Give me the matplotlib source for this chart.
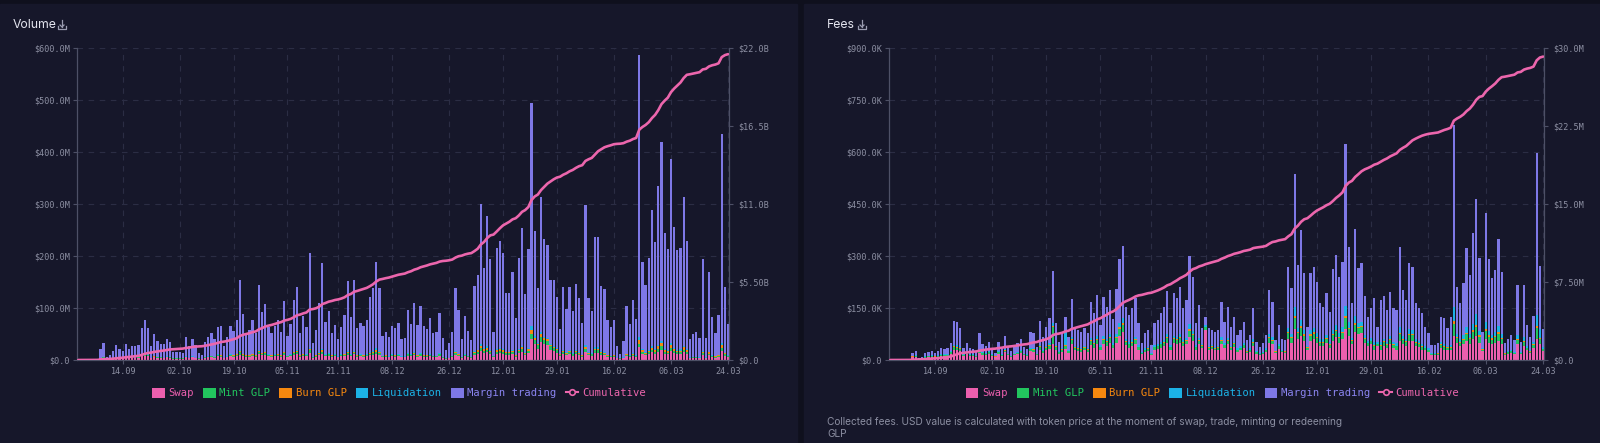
import numpy as np
import pandas as pd
import matplotlib
matplotlib.use("Agg")
import matplotlib.pyplot as plt
from matplotlib.lines import Line2D
from matplotlib.patches import Patch, Rectangle

# ---- data (one value per day, 31.08.2021 .. 24.03.2022) ----
days = pd.date_range("2021-08-31", "2022-03-24", freq="D")
tick_labels = ["14.09", "02.10", "19.10", "05.11", "21.11", "08.12",
               "26.12", "12.01", "29.01", "16.02", "06.03", "24.03"]

# daily volume, $M (total stack height and the small components)
vol_total = [0.3, 0.5, 0.8, 0.6, 1.0, 1.2, 2.0,
    22, 33, 6, 10, 18, 28, 21, 18, 31, 22,
    26, 26, 29, 61, 77, 61, 26, 50, 37, 31,
    30, 40, 35, 16, 16, 15, 14, 44, 27, 40,
    29, 14, 10, 35, 45, 51, 40, 64, 66, 26,
    44, 65, 56, 77,
    153, 88, 51, 58, 76, 51, 144, 93, 107, 64,
    51, 65, 77, 54, 113, 46, 69, 115, 140, 51,
    85, 64, 205, 32, 58, 109, 187, 74, 95, 51,
    67, 40, 63, 87, 151, 83, 154, 61, 71, 65,
    77, 121, 138, 189, 138, 46, 54, 44, 65, 61,
    72, 40, 42, 96,
    70, 110, 67, 104, 65, 59, 80, 51, 53, 90,
    42, 19, 32, 53, 138, 96, 40, 85, 56, 38,
    143, 163, 300, 176, 276, 194, 53, 215, 229, 205,
    128, 128, 170, 80, 196, 253, 127, 213, 495, 249,
    138, 314, 232, 221, 154, 154, 122, 59, 141, 99,
    141, 95, 146, 119, 72, 298, 119, 95, 236, 236,
    142, 136, 77, 63, 76, 26, 12, 37, 104, 70,
    115, 78, 587, 189, 144, 196, 288, 226, 335, 420,
    245, 213, 386, 255, 212, 215, 313, 228, 40, 50,
    53, 42, 194, 43, 170, 82, 51, 87, 435, 141, 69]

vol_swap = [0.2, 0.3, 0.5, 0.4, 0.6, 0.8, 1.0,
    3, 4, 1, 2, 3, 4, 3, 3, 4, 3,
    4, 3, 4, 7, 8, 7, 3, 5, 4, 4,
    3, 5, 4, 2, 2, 2, 2, 5, 3, 5,
    3, 2, 1, 4, 5, 6, 4, 7, 6, 3,
    5, 7, 6, 8,
    10, 8, 6, 6, 8, 6, 12, 9, 10, 7,
    6, 7, 8, 6, 10, 5, 7, 10, 12, 6,
    8, 7, 14, 4, 6, 9, 12, 7, 8, 6,
    7, 5, 7, 8, 10, 7, 11, 6, 7, 6,
    7, 9, 10, 12, 10, 5, 6, 5, 7, 6,
    7, 5, 5, 8,
    7, 9, 6, 8, 6, 6, 7, 5, 5, 8,
    4, 2, 3, 5, 10, 8, 4, 7, 5, 4,
    10, 12, 18, 14, 16, 12, 5, 12, 14, 12,
    10, 10, 11, 6, 13, 16, 9, 14, 40, 30,
    22, 35, 30, 28, 20, 18, 14, 7, 12, 9,
    11, 8, 11, 9, 6, 16, 9, 8, 14, 14,
    10, 9, 6, 5, 6, 3, 2, 3, 7, 5,
    7, 5, 25, 12, 9, 11, 15, 12, 16, 20,
    12, 11, 18, 13, 11, 11, 15, 12, 3, 4,
    4, 3, 10, 3, 9, 5, 4, 6, 18, 8, 5]

vol_mint = [0.1, 0.1, 0.2, 0.1, 0.2, 0.2, 0.3,
    1, 1, 0.5, 1, 1, 1, 1, 1, 1, 1,
    1, 1, 1, 2, 2, 2, 1, 1, 1, 1,
    1, 1, 1, 1, 1, 1, 1, 1, 1, 1,
    1, 1, 0.5, 1, 1, 1, 1, 2, 2, 1,
    1, 2, 2, 2,
    5, 2, 2, 2, 2, 2, 4, 3, 3, 2,
    2, 2, 2, 2, 3, 2, 2, 3, 4, 2,
    2, 2, 5, 1, 2, 3, 4, 2, 3, 2,
    2, 1, 2, 2, 3, 2, 3, 2, 2, 2,
    2, 3, 3, 4, 3, 2, 2, 1, 2, 2,
    2, 1, 1, 3,
    2, 3, 2, 3, 2, 2, 2, 2, 2, 3,
    1, 1, 1, 2, 3, 2, 1, 2, 2, 1,
    3, 4, 5, 4, 4, 3, 2, 4, 4, 4,
    3, 3, 4, 2, 4, 5, 3, 4, 10, 8,
    6, 9, 8, 8, 6, 5, 5, 3, 4, 3,
    4, 3, 4, 3, 2, 5, 3, 3, 5, 5,
    4, 3, 2, 2, 2, 1, 1, 1, 3, 2,
    3, 2, 6, 4, 3, 4, 5, 4, 5, 6,
    4, 3, 6, 4, 4, 4, 5, 4, 1, 1,
    1, 1, 3, 1, 3, 2, 2, 2, 5, 3, 2]

vol_burn = [0, 0, 0, 0, 0, 0.1, 0.1,
    0.5, 0.5, 0.2, 0.3, 0.5, 0.5, 0.4, 0.4, 0.6, 0.4,
    0.5, 0.5, 0.5, 1, 1, 1, 0.5, 0.8, 0.6, 0.5,
    0.5, 0.6, 0.6, 0.3, 0.3, 0.3, 0.3, 0.7, 0.5, 0.6,
    0.5, 0.3, 0.2, 0.6, 0.7, 0.8, 0.6, 1, 1, 0.5,
    0.7, 1, 0.9, 1.2,
    2, 1.2, 0.8, 0.9, 1.1, 0.8, 2, 1.4, 1.5, 1,
    0.8, 1, 1.1, 0.8, 1.6, 0.7, 1, 1.6, 2, 0.8,
    1.2, 1, 2.5, 0.5, 0.9, 1.5, 2.5, 1.1, 1.4, 0.8,
    1, 0.6, 1, 1.2, 2, 1.2, 2, 0.9, 1, 1,
    1.1, 1.7, 2, 2.5, 2, 0.7, 0.8, 0.7, 1, 0.9,
    1, 0.6, 0.6, 1.4,
    1, 1.5, 1, 1.5, 1, 0.9, 1.2, 0.8, 0.8, 1.3,
    0.6, 0.3, 0.5, 0.8, 2, 1.4, 0.6, 1.2, 0.8, 0.6,
    2, 2.5, 4, 2.5, 3.5, 2.5, 0.8, 3, 3, 3,
    2, 2, 2.5, 1.2, 2.5, 3.5, 2, 3, 8, 5,
    3, 6, 4, 4, 2.5, 2.5, 2, 1, 2, 1.5,
    2, 1.5, 2, 1.8, 1.2, 4, 1.8, 1.5, 3, 3,
    2, 2, 1.2, 1, 1.2, 0.5, 0.3, 0.6, 1.5, 1,
    1.8, 1.2, 8, 3, 2, 3, 4, 3, 5, 6,
    3.5, 3, 5, 3.5, 3, 3, 4.5, 3, 0.6, 0.8,
    0.8, 0.6, 3, 0.6, 2.5, 1.2, 0.8, 1.2, 6, 2, 1]

vol_liq = [0, 0, 0, 0, 0, 0, 0,
    0.2, 0.3, 0.1, 0.1, 0.2, 0.3, 0.2, 0.2, 0.3, 0.2,
    0.2, 0.2, 0.3, 0.6, 0.8, 0.6, 0.2, 0.5, 0.4, 0.3,
    0.3, 0.4, 0.3, 0.1, 0.1, 0.1, 0.1, 0.4, 0.3, 0.4,
    0.3, 0.1, 0.1, 0.3, 0.4, 0.5, 0.4, 0.6, 0.7, 0.2,
    0.4, 0.7, 0.5, 0.8,
    1.5, 0.8, 0.5, 0.6, 0.8, 0.5, 1.5, 0.9, 1, 0.6,
    0.5, 0.6, 0.8, 0.5, 1.2, 0.4, 0.7, 1.2, 1.5, 0.5,
    0.8, 0.6, 2, 0.3, 0.6, 1, 2, 0.7, 1, 0.5,
    0.7, 0.4, 0.6, 0.9, 1.5, 0.8, 1.5, 0.6, 0.7, 0.6,
    0.8, 1.2, 1.5, 4, 1.5, 0.5, 0.5, 0.4, 0.6, 0.6,
    0.7, 0.4, 0.4, 1,
    0.7, 1.1, 0.7, 1, 0.6, 0.6, 0.8, 0.5, 0.5, 0.9,
    0.4, 0.2, 0.3, 0.5, 1.4, 1, 0.4, 0.8, 0.6, 0.4,
    1.5, 1.6, 3, 1.8, 2.8, 2, 0.5, 2.2, 2.3, 2,
    1.3, 1.3, 1.7, 0.8, 2, 2.5, 1.3, 2.1, 7, 2.5,
    1.4, 3.5, 2.3, 2.2, 1.5, 1.5, 1.2, 0.6, 1.4, 1,
    1.4, 1, 1.5, 1.2, 0.7, 3, 1.2, 1, 2.4, 2.4,
    1.4, 1.4, 0.8, 0.6, 0.8, 0.3, 0.1, 0.4, 1, 0.7,
    1.2, 0.8, 6, 1.9, 1.4, 2, 2.9, 2.3, 3.4, 4.2,
    2.5, 2.1, 3.9, 2.6, 2.1, 2.2, 3.1, 2.3, 0.4, 0.5,
    0.5, 0.4, 1.9, 0.4, 1.7, 0.8, 0.5, 0.9, 4.4, 1.4, 0.7]

# daily fees, $K
fee_total = [0.2, 0.4, 0.6, 0.5, 0.8, 1, 2,
    21, 27, 5, 10, 19, 24, 27, 21, 26, 34,
    32, 34, 50, 112, 109, 93, 34, 50, 34, 31,
    24, 77, 46, 40, 53, 34, 21, 53, 34, 69,
    38, 26, 38, 48, 62, 38, 31, 82, 79, 38,
    113, 67, 96, 120, 257, 106, 53, 82, 125, 67,
    175, 96, 87, 82, 91, 77, 168, 135, 188, 101,
    183, 154, 202, 117, 204, 290, 330, 154, 130, 150,
    178, 106, 48, 77, 87, 43, 106, 115, 137, 154,
    200, 106, 192, 178, 212, 150, 173, 300, 240, 106,
    160,
    91, 125, 91, 87, 82, 87, 168, 111, 152, 96,
    125, 72, 87, 111, 58, 72, 149, 53, 38, 48,
    72, 202, 168, 58, 101, 62, 58, 269, 208, 536,
    274, 375, 250, 96, 250, 269, 226, 163, 154, 192,
    139, 262, 303, 240, 284, 622, 327, 163, 377, 265,
    280, 185, 125, 149, 178, 96, 173, 185, 144, 197,
    150, 144, 325, 202, 173, 281, 269, 163, 149, 135,
    96, 77, 43, 43, 48, 125, 120, 91, 123, 678,
    212, 165, 221, 322, 245, 365, 463, 293, 82, 425,
    290, 236, 260, 348, 255, 48, 62, 72, 58, 216,
    53, 216, 101, 67, 127, 598, 271, 88]

fee_swap = [0.1, 0.2, 0.3, 0.2, 0.4, 0.5, 1,
    8, 10, 2, 4, 7, 9, 10, 8, 10, 12,
    12, 12, 18, 30, 28, 25, 12, 18, 12, 11,
    9, 20, 15, 14, 18, 12, 8, 18, 12, 22,
    13, 9, 13, 16, 20, 13, 11, 25, 24, 13,
    30, 20, 28, 32, 45, 30, 18, 24, 32, 20,
    45, 28, 26, 24, 28, 24, 42, 36, 45, 30,
    45, 40, 50, 34, 50, 70, 80, 42, 36, 40,
    45, 30, 16, 24, 26, 14, 30, 32, 36, 40,
    50, 30, 48, 45, 50, 40, 45, 65, 55, 30,
    45,
    35, 86, 30, 32, 28, 30, 45, 35, 45, 30,
    38, 24, 28, 35, 20, 24, 40, 18, 14, 16,
    24, 50, 45, 20, 32, 22, 20, 60, 50, 90,
    60, 70, 55, 30, 55, 60, 50, 40, 40, 48,
    35, 55, 65, 50, 60, 90, 70, 45, 80, 75,
    77, 50, 40, 45, 30, 40, 30, 40, 35, 45,
    35, 30, 55, 45, 40, 55, 55, 40, 38, 30,
    28, 24, 15, 14, 15, 35, 30, 30, 28, 70,
    50, 40, 45, 55, 45, 60, 70, 50, 25, 60,
    50, 45, 50, 55, 45, 15, 18, 20, 16, 45,
    16, 40, 28, 20, 35, 60, 45, 25]

fee_mint = [0, 0, 0.1, 0.1, 0.1, 0.1, 0.2,
    2, 2, 0.5, 1, 2, 2, 2, 2, 2, 3,
    3, 3, 4, 8, 8, 7, 3, 4, 3, 3,
    2, 6, 4, 3, 4, 3, 2, 4, 3, 5,
    3, 2, 3, 4, 5, 3, 3, 6, 6, 3,
    8, 5, 7, 9, 50, 8, 4, 6, 9, 5,
    12, 7, 6, 6, 7, 6, 12, 10, 13, 7,
    13, 11, 14, 8, 14, 20, 22, 11, 9, 10,
    12, 7, 3, 5, 6, 3, 7, 8, 9, 10,
    13, 7, 12, 12, 14, 10, 11, 20, 16, 7,
    10,
    6, 8, 6, 6, 5, 6, 11, 7, 10, 6,
    8, 5, 6, 7, 4, 5, 10, 4, 3, 3,
    5, 13, 11, 4, 7, 4, 4, 17, 13, 30,
    17, 22, 15, 6, 15, 16, 14, 10, 10, 12,
    9, 16, 18, 14, 17, 30, 19, 10, 22, 16,
    17, 11, 8, 9, 11, 6, 11, 11, 9, 12,
    9, 9, 19, 12, 11, 17, 16, 10, 9, 8,
    6, 5, 3, 3, 3, 8, 8, 6, 8, 35,
    13, 10, 13, 19, 15, 21, 26, 17, 5, 24,
    17, 14, 15, 20, 15, 3, 4, 5, 4, 13,
    3, 13, 6, 4, 8, 32, 16, 6]

fee_burn = [0, 0, 0, 0, 0, 0, 0,
    0.4, 0.4, 0.1, 0.2, 0.4, 0.4, 0.4, 0.4, 0.4, 0.6,
    0.6, 0.6, 0.8, 1.6, 1.6, 1.6, 0.6, 0.8, 0.6, 0.6,
    0.4, 1.2, 0.8, 0.8, 0.8, 0.6, 0.4, 0.8, 0.6, 1.2,
    0.6, 0.4, 0.6, 0.8, 1, 0.6, 0.6, 1.2, 1.2, 0.6,
    1.6, 1.2, 1.6, 2, 3, 1.6, 0.8, 1.2, 2, 1.2,
    2.4, 1.6, 1.2, 1.2, 1.6, 1.2, 2.4, 2, 2.8, 1.6,
    2.8, 2.4, 3.2, 2, 3.2, 4.4, 4.8, 2.4, 2, 2.4,
    2.8, 1.6, 0.8, 1.2, 1.2, 0.8, 1.6, 1.6, 2, 2.4,
    2.8, 1.6, 2.8, 2.8, 3.2, 2.4, 2.4, 4.4, 3.6, 1.6,
    2.4,
    1.4, 2, 1.4, 1.4, 1.2, 1.4, 2.4, 1.6, 2.4, 1.6,
    2, 1.2, 1.4, 1.6, 0.8, 1.2, 2.4, 0.8, 0.6, 0.8,
    1.2, 3.2, 2.4, 0.8, 1.6, 1, 0.8, 4, 3.2, 7,
    4, 5, 3.6, 1.6, 3.6, 4, 3.2, 2.4, 2.4, 2.8,
    2, 3.6, 4, 3.2, 4, 7, 4.4, 2.4, 5, 3.6,
    4, 2.8, 2, 2.2, 2.4, 1.4, 2.4, 2.4, 2, 2.8,
    2.2, 2, 4.4, 2.8, 2.4, 4, 4, 2.4, 2.2, 2,
    1.4, 1.2, 0.6, 0.6, 0.8, 1.8, 1.8, 1.4, 1.8, 8,
    3.2, 2.4, 3.2, 4.4, 3.6, 4.8, 6, 4, 1.2, 5.6,
    4, 3.2, 3.6, 4.8, 3.6, 0.8, 0.8, 1, 0.8, 3.2,
    0.8, 3.2, 1.4, 1, 1.8, 7, 3.6, 1.2]

fee_liq = [0, 0, 0, 0, 0, 0, 0,
    1, 1, 0.2, 0.5, 1, 1, 1, 1, 1, 1.5,
    1.5, 1.5, 2, 5, 5, 4, 1.5, 2, 1.5, 1.5,
    1, 3, 2, 2, 2, 1.5, 1, 2, 1.5, 3,
    1.5, 1, 1.5, 2, 2.5, 1.5, 1.5, 3, 3, 1.5,
    4, 3, 4, 5, 8, 4, 2, 3, 38, 3,
    6, 4, 3, 3, 4, 3, 6, 5, 7, 4,
    7, 6, 8, 5, 8, 12, 14, 6, 5, 6,
    7, 4, 2, 3, 3, 2, 4, 4, 5, 6,
    8, 4, 7, 7, 8, 6, 6, 15, 10, 4,
    6,
    4, 5, 4, 4, 3, 4, 8, 5, 7, 4,
    5, 3, 4, 5, 2, 3, 7, 2, 2, 2,
    3, 10, 8, 2, 5, 3, 2, 12, 10, 25,
    12, 18, 12, 4, 12, 13, 10, 7, 7, 9,
    6, 12, 14, 11, 13, 28, 15, 7, 20, 12,
    13, 8, 6, 7, 8, 4, 8, 8, 7, 9,
    7, 7, 16, 9, 8, 13, 12, 7, 6, 6,
    4, 4, 2, 2, 2, 6, 6, 4, 6, 40,
    10, 8, 10, 16, 12, 18, 30, 14, 4, 20,
    14, 11, 12, 17, 12, 2, 3, 3, 3, 10,
    2, 10, 5, 3, 6, 30, 25, 4]

vol_left = [0, 100, 200, 300, 400, 500, 600]
vol_left_lbl = ["$0.0", "$100.0M", "$200.0M", "$300.0M", "$400.0M", "$500.0M", "$600.0M"]
vol_right = [0, 5.5, 11, 16.5, 22]
vol_right_lbl = ["$0.0", "$5.50B", "$11.0B", "$16.5B", "$22.0B"]
fee_left = [0, 150, 300, 450, 600, 750, 900]
fee_left_lbl = ["$0.0", "$150.0K", "$300.0K", "$450.0K", "$600.0K", "$750.0K", "$900.0K"]
fee_right = [0, 7.5, 15, 22.5, 30]
fee_right_lbl = ["$0.0", "$7.50M", "$15.0M", "$22.5M", "$30.0M"]

for name, lst in [("vol_total", vol_total), ("vol_swap", vol_swap), ("vol_mint", vol_mint),
                  ("vol_burn", vol_burn), ("vol_liq", vol_liq), ("fee_total", fee_total),
                  ("fee_swap", fee_swap), ("fee_mint", fee_mint), ("fee_burn", fee_burn),
                  ("fee_liq", fee_liq)]:
    assert len(lst) == len(days), (name, len(lst))

# ---- style ----
PAGE = "#0f101d"
BG = "#16172a"
GRID = "#2b2d44"
TICK = "#8c8fa2"
AXIS = "#4d5066"
C_SWAP = "#ec5fae"
C_MINT = "#22c55e"
C_BURN = "#f6880f"
C_LIQ = "#1cb2e6"
C_MARGIN = "#7e78e6"
C_CUM = "#ec66ad"
MONO = "DejaVu Sans Mono"

W, H = 1600, 443
fig = plt.figure(figsize=(W / 100, H / 100), dpi=100)
fig.patch.set_facecolor(PAGE)


def fx(x):
    return x / W


def fy(y):
    return 1 - y / H


fig.add_artist(Rectangle((0, 0), fx(797), fy(4), color=BG, zorder=0))
fig.add_artist(Rectangle((fx(804), 0), 1 - fx(804), fy(4), color=BG, zorder=0))


def download_icon(x0, yb):
    kw = dict(color="#9a9cb0", lw=0.9, transform=fig.transFigure)
    fig.add_artist(Line2D([fx(x0), fx(x0), fx(x0 + 8), fx(x0 + 8)],
                          [fy(yb - 3), fy(yb), fy(yb), fy(yb - 3)], **kw))
    fig.add_artist(Line2D([fx(x0 + 4), fx(x0 + 4)], [fy(yb - 9), fy(yb - 2)], **kw))
    fig.add_artist(Line2D([fx(x0 + 2), fx(x0 + 4), fx(x0 + 6)],
                          [fy(yb - 4), fy(yb - 2), fy(yb - 4)], **kw))


def panel(left, right, total, swap, mint, burn, liq, lt, ll, rt, rl, title, tx):
    x = np.arange(len(days))
    total = np.array(total, float)
    parts = [np.array(p, float) for p in (swap, mint, burn, liq)]
    margin = np.clip(total - sum(parts), 0, None)

    ax = fig.add_axes([fx(left), fy(360), fx(right) - fx(left), (360 - 48) / H])
    ax.set_facecolor("none")
    bottom = np.zeros(len(x))
    for vals, c in zip(parts + [margin], [C_SWAP, C_MINT, C_BURN, C_LIQ, C_MARGIN]):
        ax.bar(x, vals, 0.72, bottom=bottom, color=c, linewidth=0, zorder=2)
        bottom += vals
    ax.set_xlim(-0.4, 205.3)
    ax.set_ylim(lt[0], lt[-1])
    ax.set_yticks(lt)
    ax.set_yticklabels(ll)
    lab = list(days.strftime("%d.%m"))
    ax.set_xticks([lab.index(t) for t in tick_labels])
    ax.set_xticklabels(tick_labels)
    ax.grid(True, color=GRID, ls=(0, (5, 5)), lw=0.8)
    ax.set_axisbelow(True)

    ax2 = ax.twinx()
    ax2.plot(x, np.cumsum(total) / 1000, color=C_CUM, lw=1.9, zorder=3,
             solid_capstyle="round")
    ax2.set_ylim(rt[0], rt[-1])
    ax2.set_yticks(rt)
    ax2.set_yticklabels(rl)

    for a in (ax, ax2):
        for s in a.spines.values():
            s.set_color(AXIS)
            s.set_linewidth(0.9)
        a.spines["top"].set_visible(False)
        a.tick_params(colors=TICK, labelsize=6.1, length=3, width=0.8, pad=2)
        a.tick_params(axis="both", color=AXIS)
        for t in a.get_xticklabels() + a.get_yticklabels():
            t.set_fontfamily(MONO)
    ax.spines["right"].set_visible(False)
    ax2.spines["left"].set_visible(False)
    ax2.spines["bottom"].set_visible(False)
    ax2.tick_params(axis="y", pad=4)

    fig.text(fx(tx), fy(25), title, color="#e3e4ee", fontsize=8.8,
             family="Inter", va="center", ha="left")

    handles = [Patch(facecolor=c, edgecolor="none") for c in
               (C_SWAP, C_MINT, C_BURN, C_LIQ, C_MARGIN)]
    handles.append(Line2D([], [], color=C_CUM, lw=1.5, marker="o", markersize=4,
                          markerfacecolor=BG, markeredgecolor=C_CUM, markeredgewidth=1.2))
    names = ["Swap", "Mint GLP", "Burn GLP", "Liquidation", "Margin trading", "Cumulative"]
    leg = fig.legend(handles, names, loc="center",
                     bbox_to_anchor=(fx((left + right) / 2 - 4), fy(393)),
                     ncol=6, frameon=False, prop={"family": MONO, "size": 7.6},
                     handlelength=1.2, handleheight=1.2, handletextpad=0.35,
                     columnspacing=0.85, borderpad=0)
    for t, c in zip(leg.get_texts(), [C_SWAP, C_MINT, C_BURN, C_LIQ, "#8a84f0", C_CUM]):
        t.set_color(c)
    return ax


panel(77, 729, vol_total, vol_swap, vol_mint, vol_burn, vol_liq,
      vol_left, vol_left_lbl, vol_right, vol_right_lbl, "Volume", 13)
download_icon(58, 29)

panel(889, 1544, fee_total, fee_swap, fee_mint, fee_burn, fee_liq,
      fee_left, fee_left_lbl, fee_right, fee_right_lbl, "Fees", 827)
download_icon(858, 29)

fig.text(fx(827), fy(428), "Collected fees. USD value is calculated with token price at the "
         "moment of swap, trade, minting or redeeming\nGLP", color="#8b8ea1",
         fontsize=7.3, family="Inter", va="center", ha="left", linespacing=1.15)

fig.savefig("out.png", dpi=100, facecolor=fig.get_facecolor())
